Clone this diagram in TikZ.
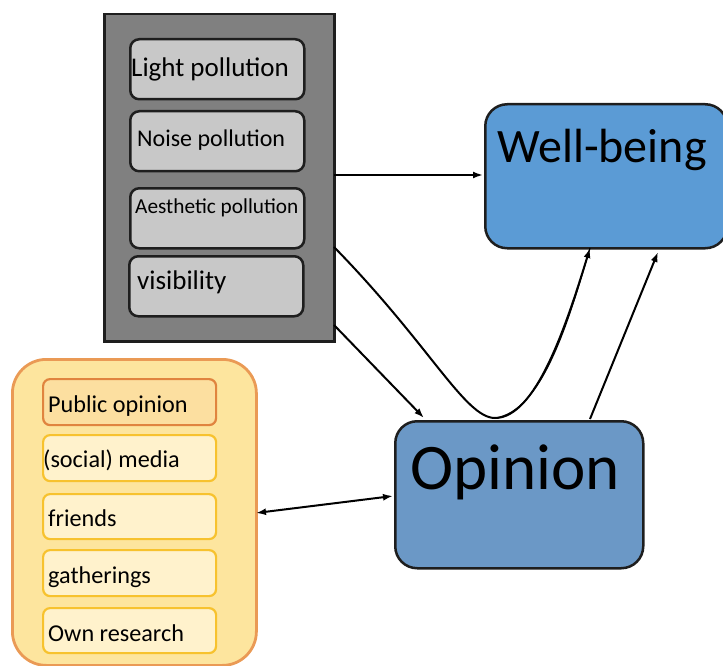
\documentclass[tikz,border=0pt]{standalone}
\usepackage{fontspec}
\setmainfont{Carlito}
\usetikzlibrary{arrows.meta}
\definecolor{darkgrey}{HTML}{808080}
\definecolor{lightgrey}{HTML}{C8C8C8}
\definecolor{wellblue}{HTML}{5B9BD5}
\definecolor{opinblue}{HTML}{6B98C6}
\definecolor{outeryellow}{HTML}{FDE59E}
\definecolor{outerorange}{HTML}{EA9A55}
\definecolor{pubfill}{HTML}{FCDFA0}
\definecolor{puborange}{HTML}{E0843F}
\definecolor{innerfill}{HTML}{FFF2CC}
\definecolor{innergold}{HTML}{F7C22E}
\definecolor{edge}{HTML}{1E1E1E}
\tikzset{
  box/.style={draw=edge, line width=2.5pt, anchor=north west, inner sep=0pt},
  factor/.style={box, fill=lightgrey, rounded corners=9pt, minimum width=174pt, minimum height=60pt},
  source/.style={draw=innergold, line width=2.2pt, fill=innerfill, rounded corners=7pt,
    anchor=north west, inner sep=0pt, minimum width=173pt},
  lbl/.style={anchor=base west, inner sep=0pt, text=black},
  tip/.style={Latex[length=10pt,width=7pt]},
  conn/.style={line width=2pt, draw=black, -{Latex[length=10pt,width=7pt]}},
}
\begin{document}
\begin{tikzpicture}[x=1pt, y=-1pt]
\useasboundingbox (0,0) rectangle (723,666);

% environmental factors
\node[box, fill=darkgrey, minimum width=230pt, minimum height=327pt] (env) at (103,13) {};
\node[factor] (light) at (129,38) {};
\node[factor] (noise) at (129,110) {};
\node[factor] (aest) at (129,187) {};
\node[factor] (vis) at (128,255) {};
\node[lbl, font=\fontsize{27}{31}\selectfont] (lightT) at (131,77) {Light pollution};
\node[lbl, font=\fontsize{24}{28}\selectfont] (noiseT) at (137,147) {Noise pollution};
\node[lbl, font=\fontsize{21.3}{25}\selectfont] (aestT) at (135,213) {Aesthetic pollution};
\node[lbl, font=\fontsize{27}{31}\selectfont] (visT) at (137,289) {visibility};

% sources of opinion
\node[draw=outerorange, line width=2.8pt, fill=outeryellow, rounded corners=34pt,
  anchor=north west, inner sep=0pt, minimum width=244pt, minimum height=306pt] (src) at (11,358) {};
\node[source, draw=puborange, fill=pubfill, minimum height=46pt] (pub) at (42,378) {};
\node[source, minimum height=46pt] (media) at (42,434) {};
\node[source, minimum height=45pt] (friends) at (42,493) {};
\node[source, minimum height=46pt] (gath) at (42,549) {};
\node[source, minimum height=45pt] (own) at (42,607) {};
\node[lbl, font=\fontsize{24.2}{28}\selectfont] (pubT) at (48,412) {Public opinion};
\node[lbl, font=\fontsize{24.2}{28}\selectfont] (mediaT) at (43,467) {(social) media};
\node[lbl, font=\fontsize{24.2}{28}\selectfont] (friendsT) at (48,526) {friends};
\node[lbl, font=\fontsize{24.2}{28}\selectfont] (gathT) at (48,583) {gatherings};
\node[lbl, font=\fontsize{24.2}{28}\selectfont] (ownT) at (48,641) {Own research};

% outcomes
\node[box, fill=wellblue, rounded corners=22pt, minimum width=242pt, minimum height=144pt] (well) at (484,103) {};
\node[lbl, font=\fontsize{48}{53}\selectfont] (wellT) at (497,163) {Well-being};
\node[box, fill=opinblue, rounded corners=22pt, minimum width=248pt, minimum height=147pt] (opin) at (394,420) {};
\node[lbl, font=\fontsize{65}{71}\selectfont] (opinT) at (410,489) {Opinion};

% connector end points on the box borders
\coordinate (envA) at (334,175);
\coordinate (envB) at (334,247);
\coordinate (envC) at (334,325);
\coordinate (wellA) at (483,175);
\coordinate (wellB) at (590,248);
\coordinate (wellC) at (658,252);
\coordinate (opinA) at (424,418);
\coordinate (opinB) at (495,418);
\coordinate (opinC) at (590,419);
\coordinate (opinD) at (393,496);
\coordinate (srcA) at (256,513);

% connectors
\draw[conn] (envA) -- (wellA);
\draw[conn] (envC) -- (opinA);
\draw[conn] (opinC) -- (wellC);
\draw[line width=1.2pt] (opinB) .. controls (542,412) and (569,320) .. (wellB);
\draw[conn] (envB) .. controls (430,345) and (465,418) .. (opinB)
  .. controls (535,418) and (565,330) .. (wellB);
\draw[line width=2pt, {Latex[length=10pt,width=7pt]}-{Latex[length=10pt,width=7pt]}] (srcA) -- (opinD);
\end{tikzpicture}
\end{document}
